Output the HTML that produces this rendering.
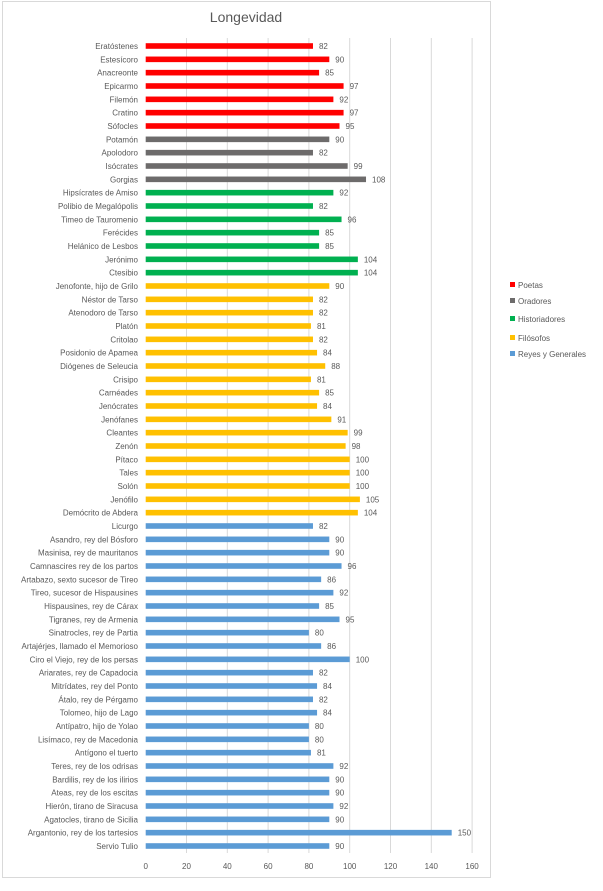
<!DOCTYPE html>
<html><head><meta charset="utf-8"><style>
body{margin:0;background:#fff}
svg{display:block;font-family:"Liberation Sans",sans-serif}
</style></head><body>
<svg width="603" height="891" xmlns="http://www.w3.org/2000/svg" id="s">
<rect x="2.5" y="1.5" width="488" height="876" fill="#fff" stroke="#d9d9d9"/>
<text x="246" y="22" font-size="14" fill="#595959" text-anchor="middle">Longevidad</text>
<g id="g"></g>
<g font-size="8" fill="#595959">
<rect x="510" y="282" width="5" height="5" fill="#ff0000"/><text x="518" y="288">Poetas</text>
<rect x="510" y="298" width="5" height="5" fill="#6d6b6b"/><text x="518" y="304">Oradores</text>
<rect x="510" y="316" width="5" height="5" fill="#00b050"/><text x="518" y="322">Historiadores</text>
<rect x="510" y="335" width="5" height="5" fill="#ffc000"/><text x="518" y="341">Filósofos</text>
<rect x="510" y="351" width="5" height="5" fill="#5b9bd5"/><text x="518" y="357">Reyes y Generales</text>
</g>
</svg>
<script>
var d=[["Eratóstenes",82,0],["Estesícoro",90,0],["Anacreonte",85,0],["Epicarmo",97,0],["Filemón",92,0],["Cratino",97,0],["Sófocles",95,0],
["Potamón",90,1],["Apolodoro",82,1],["Isócrates",99,1],["Gorgias",108,1],
["Hipsícrates de Amiso",92,2],["Polibio de Megalópolis",82,2],["Timeo de Tauromenio",96,2],["Ferécides",85,2],["Helánico de Lesbos",85,2],["Jerónimo",104,2],["Ctesibio",104,2],
["Jenofonte, hijo de Grilo",90,3],["Néstor de Tarso",82,3],["Atenodoro de Tarso",82,3],["Platón",81,3],["Critolao",82,3],["Posidonio de Apamea",84,3],["Diógenes de Seleucia",88,3],["Crisipo",81,3],["Carnéades",85,3],["Jenócrates",84,3],["Jenófanes",91,3],["Cleantes",99,3],["Zenón",98,3],["Pítaco",100,3],["Tales",100,3],["Solón",100,3],["Jenófilo",105,3],["Demócrito de Abdera",104,3],
["Licurgo",82,4],["Asandro, rey del Bósforo",90,4],["Masinisa, rey de mauritanos",90,4],["Camnascires rey de los partos",96,4],["Artabazo, sexto sucesor de Tireo",86,4],["Tireo, sucesor de Hispausines",92,4],["Hispausines, rey de Cárax",85,4],["Tigranes, rey de Armenia",95,4],["Sinatrocles, rey de Partia",80,4],["Artajérjes, llamado el Memorioso",86,4],["Ciro el Viejo, rey de los persas",100,4],["Ariarates, rey de Capadocia",82,4],["Mitrídates, rey del Ponto",84,4],["Átalo, rey de Pérgamo",82,4],["Tolomeo, hijo de Lago",84,4],["Antípatro, hijo de Yolao",80,4],["Lisímaco, rey de Macedonia",80,4],["Antígono el tuerto",81,4],["Teres, rey de los odrisas",92,4],["Bardilis, rey de los ilirios",90,4],["Ateas, rey de los escitas",90,4],["Hierón, tirano de Siracusa",92,4],["Agatocles, tirano de Sicilia",90,4],["Argantonio, rey de los tartesios",150,4],["Servio Tulio",90,4]];
var c=["#ff0000","#6d6b6b","#00b050","#ffc000","#5b9bd5"];
var x0=145.7,k=2.04,y0=46,p=800/60,h="";
for(var t=0;t<=160;t+=20){var x=x0+t*k;if(t>0)h+='<line x1="'+x+'" y1="38" x2="'+x+'" y2="853" stroke="#d9d9d9" stroke-width="1"/>';h+='<text x="'+x+'" y="869" font-size="8" fill="#595959" text-anchor="middle">'+t+'</text>';}
d.forEach(function(r,i){var y=y0+i*p;h+='<rect x="'+x0+'" y="'+(y-2.8)+'" width="'+(r[1]*k)+'" height="5.6" fill="'+c[r[2]]+'"/>';
h+='<text x="138" y="'+(y+3)+'" font-size="8" fill="#595959" text-anchor="end">'+r[0]+'</text>';
h+='<text x="'+(x0+r[1]*k+6)+'" y="'+(y+3)+'" font-size="8" fill="#595959">'+r[1]+'</text>';});
document.getElementById("g").innerHTML=h;
</script>
</body></html>
